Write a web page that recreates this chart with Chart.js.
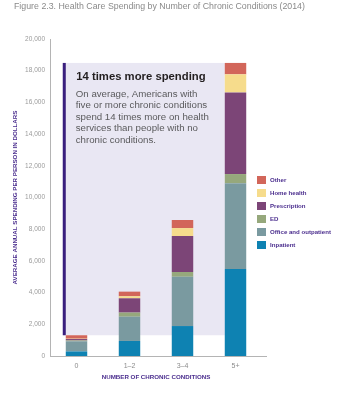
<!DOCTYPE html>
<html>
<head>
<meta charset="utf-8">
<script src="https://cdn.jsdelivr.net/npm/chart.js@4.4.1/dist/chart.umd.min.js"></script>
<style>
  html, body { margin: 0; padding: 0; background: #ffffff; }
  #wrap { position: relative; width: 338px; height: 400px; }
</style>
</head>
<body>
<div id="wrap"><canvas id="chart" width="338" height="400"></canvas></div>
<script>
// Number of chronic conditions (2014), average annual spending per person in dollars
const categories = ['0', '1\u20132', '3\u20134', '5+'];
const inpatient    = [290, 950, 1890, 5490];
const office       = [640, 1530, 3110, 5410];
const ed           = [50, 260, 300, 580];
const prescription = [90, 900, 2270, 5150];
const homeHealth   = [20, 130, 500, 1140];
const other        = [220, 290, 510, 720];
const yTicks = [0, 2000, 4000, 6000, 8000, 10000, 12000, 14000, 16000, 18000, 20000];

const FONT = "'Liberation Sans', Arial, Helvetica, sans-serif";
const PURPLE_TEXT = '#4b2e8e';

const series = [
  { label: 'Inpatient', data: inpatient, color: '#0e82b2' },
  { label: 'Office and outpatient', data: office, color: '#7a9aa0' },
  { label: 'ED', data: ed, color: '#96a87c' },
  { label: 'Prescription', data: prescription, color: '#7c4577' },
  { label: 'Home health', data: homeHealth, color: '#f6dc8c' },
  { label: 'Other', data: other, color: '#d2665a' }
];

const callout = {
  heading: '14 times more spending',
  body: [
    'On average, Americans with',
    'five or more chronic conditions',
    'spend 14 times more on health',
    'services than people with no',
    'chronic conditions.'
  ]
};

function totalAt(i) {
  return series.reduce((s, d) => s + d.data[i], 0);
}

// Shaded callout panel behind the bars, spanning from the "0" total up to the "5+" total
const calloutPlugin = {
  id: 'callout',
  beforeDatasetsDraw(chart) {
    const { ctx, scales: { y } } = chart;
    const meta0 = chart.getDatasetMeta(0);
    const bar0 = meta0.data[0];
    const bar3 = meta0.data[3];
    const left = bar0.x - bar0.width / 2 - 3;
    const right = bar3.x - bar3.width / 2;
    const top = y.getPixelForValue(totalAt(3));
    const bottom = y.getPixelForValue(totalAt(0));
    ctx.save();
    ctx.fillStyle = '#e9e7f3';
    ctx.fillRect(left, top, right - left, bottom - top);
    ctx.fillStyle = '#3a1f7e';
    ctx.fillRect(left, top, 3, bottom - top);

    ctx.textBaseline = 'middle';
    ctx.textAlign = 'left';
    ctx.fillStyle = '#231f20';
    ctx.font = 'bold 11.3px ' + FONT;
    ctx.fillText(callout.heading, left + 13.5, top + 14);
    ctx.fillStyle = '#5a5a5c';
    ctx.font = '9.7px ' + FONT;
    callout.body.forEach((line, k) => {
      ctx.fillText(line, left + 13, top + 31 + k * 11.5);
    });
    ctx.restore();
  },
  afterDraw(chart) {
    const { ctx, chartArea } = chart;
    ctx.save();
    // figure caption
    ctx.fillStyle = '#8a8a8a';
    ctx.font = '8.8px ' + FONT;
    ctx.textBaseline = 'middle';
    ctx.textAlign = 'left';
    ctx.fillText('Figure 2.3. Health Care Spending by Number of Chronic Conditions (2014)', 14, 7);

    // x axis runs a little past the last category
    ctx.strokeStyle = '#b4b4b4';
    ctx.lineWidth = 1;
    ctx.beginPath();
    ctx.moveTo(chartArea.right, chartArea.bottom + 0.5);
    ctx.lineTo(chartArea.right + 5, chartArea.bottom + 0.5);
    ctx.stroke();

    // legend, top entry is the top of the stack
    const items = chart.data.datasets.slice().reverse();
    ctx.font = 'bold 6.1px ' + FONT;
    items.forEach((ds, k) => {
      const cy = 180 + k * 13;
      ctx.fillStyle = ds.backgroundColor;
      ctx.fillRect(257, cy - 4, 9, 8);
      ctx.fillStyle = PURPLE_TEXT;
      ctx.fillText(ds.label, 270, cy);
    });
    ctx.restore();
  }
};

new Chart(document.getElementById('chart'), {
  type: 'bar',
  data: {
    labels: categories,
    datasets: series.map(s => ({
      label: s.label,
      data: s.data,
      backgroundColor: s.color,
      borderWidth: 0,
      barPercentage: 0.405,
      categoryPercentage: 1
    }))
  },
  options: {
    responsive: false,
    animation: false,
    layout: { padding: { top: 39, left: 0, right: 76, bottom: 0 } },
    plugins: {
      legend: { display: false },
      tooltip: { enabled: false }
    },
    scales: {
      x: {
        stacked: true,
        grid: { display: false, drawTicks: false },
        border: { color: '#b4b4b4' },
        ticks: { color: '#8c8c8c', font: { family: FONT, size: 7 }, padding: 6 },
        title: {
          display: true,
          text: 'NUMBER OF CHRONIC CONDITIONS',
          color: PURPLE_TEXT,
          font: { family: FONT, size: 6.2, weight: 'bold' },
          padding: { top: 0, bottom: 19.4 }
        },
        afterFit(scale) { scale.height = 44; }
      },
      y: {
        stacked: true,
        min: 0,
        max: 20000,
        afterBuildTicks(scale) { scale.ticks = yTicks.map(v => ({ value: v })); },
        grid: { display: false, drawTicks: false },
        border: { color: '#b4b4b4' },
        ticks: {
          color: '#9a9a9a',
          font: { family: FONT, size: 6.5 },
          padding: 5,
          callback: v => Number(v).toLocaleString('en-US')
        },
        title: {
          display: true,
          text: 'AVERAGE ANNUAL SPENDING PER PERSON IN DOLLARS',
          color: PURPLE_TEXT,
          font: { family: FONT, size: 6.2, weight: 'bold' },
          padding: { top: 11.4, bottom: 0 }
        },
        afterFit(scale) { scale.width = 50; }
      }
    }
  },
  plugins: [calloutPlugin]
});
</script>
</body>
</html>
